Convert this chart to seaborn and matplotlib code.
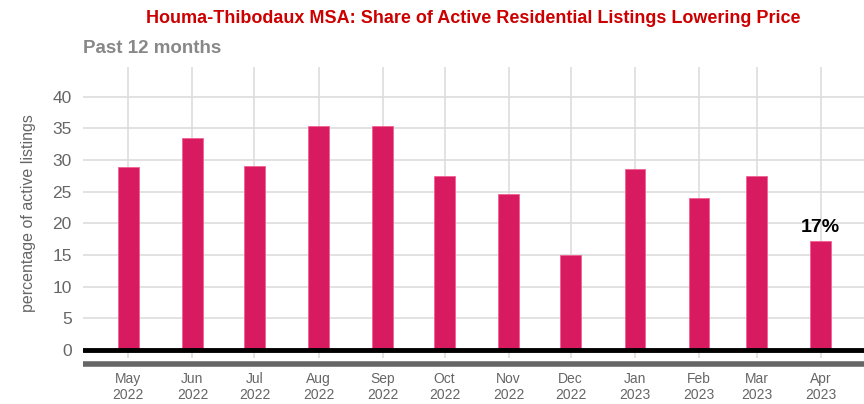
import matplotlib
matplotlib.use("Agg")
import matplotlib.pyplot as plt
import matplotlib.dates as mdates
import pandas as pd
import seaborn as sns

# data
months = ["2022-05-01", "2022-06-01", "2022-07-01", "2022-08-01", "2022-09-01", "2022-10-01",
          "2022-11-01", "2022-12-01", "2023-01-01", "2023-02-01", "2023-03-01", "2023-04-01"]
share = [28.9, 33.4, 29.0, 35.4, 35.3, 27.5, 24.7, 15.0, 28.6, 24.0, 27.5, 17.2]
tick_labels = ["May\n2022", "Jun\n2022", "Jul\n2022", "Aug\n2022", "Sep\n2022", "Oct\n2022",
               "Nov\n2022", "Dec\n2022", "Jan\n2023", "Feb\n2023", "Mar\n2023", "Apr\n2023"]

df = pd.DataFrame({"month": pd.to_datetime(months), "share": share})
df["x"] = mdates.date2num(df["month"])

sns.set_style("white")
plt.rcParams["font.family"] = ["Liberation Sans", "DejaVu Sans"]

fig = plt.figure(figsize=(8.64, 4.04), dpi=100)
ax = fig.add_axes([0.096, 0.113, 0.904, 0.72])

ax.grid(True, color="#dddddd", linewidth=1.2)
ax.set_axisbelow(True)

sns.barplot(data=df, x="x", y="share", native_scale=True, width=0.35,
            color="#d81b60", saturation=1, edgecolor="#f06292", linewidth=0.6, ax=ax)

ax.axhline(0, color="black", linewidth=3.5, zorder=5)
# grey base rule under the plot area
ax.plot([0, 1], [-0.02, -0.02], transform=ax.transAxes, color="#666666",
        linewidth=4, clip_on=False, solid_capstyle="butt")

ax.set_xticks(df["x"])
ax.set_xticklabels(tick_labels, linespacing=1.2)
ax.set_xlim(df["x"].iloc[0] - 22, df["x"].iloc[-1] + 21)
ax.set_ylim(-1.3, 44.6)
ax.set_yticks(range(0, 45, 5))

ax.tick_params(axis="x", labelcolor="#666666", labelsize=10, length=0, pad=10)
ax.tick_params(axis="y", colors="#666666", labelsize=12.5, length=0, pad=8)

for s in ax.spines.values():
    s.set_visible(False)

ax.set_xlabel("")
ax.set_ylabel("percentage of active listings", color="#666666", fontsize=11.5, labelpad=12)

last = df.iloc[-1]
ax.text(last["x"], last["share"] + 0.8, f"{round(last['share'])}%", ha="center", va="bottom",
        fontsize=14, fontweight="bold", color="black")

fig.text(0.548, 0.955, "Houma-Thibodaux MSA: Share of Active Residential Listings Lowering Price",
         ha="center", va="center", color="#cc0000", fontsize=13, fontweight="bold")
fig.text(0.096, 0.880, "Past 12 months", ha="left", va="center", color="#888888",
         fontsize=13.5, fontweight="bold")

fig.savefig("out.png", dpi=100)
